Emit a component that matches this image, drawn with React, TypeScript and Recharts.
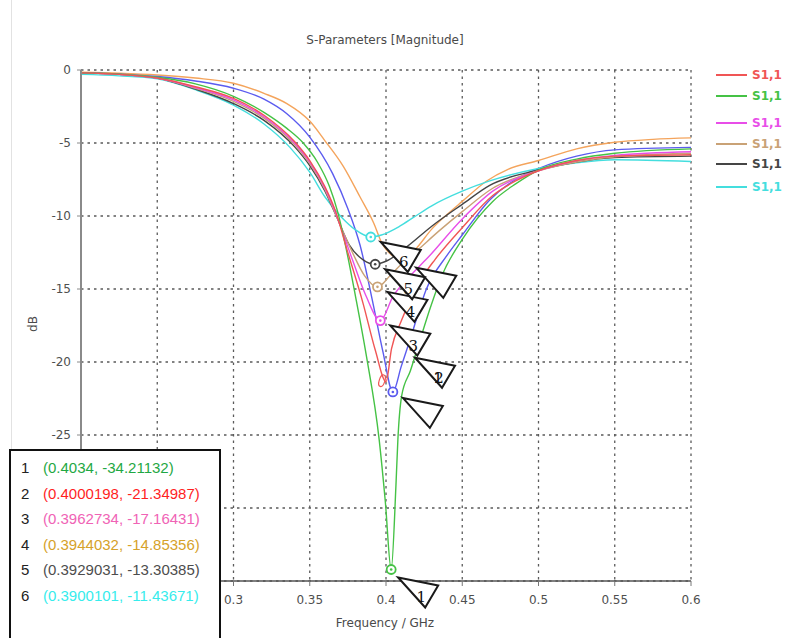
import React from 'react';
import { LineChart, Line, XAxis, YAxis, CartesianGrid, ReferenceDot } from 'recharts';

const xTicks = [0.2, 0.25, 0.3, 0.35, 0.4, 0.45, 0.5, 0.55, 0.6];
const yTicks = [-35, -30, -25, -20, -15, -10, -5, 0];

// traces (frequency in GHz, magnitude in dB)
const orangeF = [0.2, 0.225, 0.25, 0.275, 0.3, 0.32, 0.335, 0.35, 0.36, 0.372, 0.383, 0.392, 0.397, 0.404, 0.412, 0.42, 0.43, 0.44, 0.45, 0.466, 0.48, 0.5, 0.525, 0.55, 0.575, 0.6];
const orangeDb = [-0.15, -0.22, -0.34, -0.55, -0.91, -1.6, -2.3, -3.5, -4.85, -6.6, -8.7, -10.5, -11.8, -12.7, -13.0, -12.2, -10.9, -9.9, -9.0, -7.6, -6.8, -6.2, -5.4, -4.95, -4.75, -4.65];

const blueF = [0.2, 0.225, 0.25, 0.275, 0.3, 0.32, 0.335, 0.35, 0.365, 0.375, 0.383, 0.3915, 0.398, 0.4045, 0.41, 0.416, 0.4265, 0.44, 0.45, 0.468, 0.485, 0.5, 0.525, 0.55, 0.6];
const blueDb = [-0.2, -0.28, -0.45, -0.75, -1.25, -2.0, -3.0, -4.6, -7.1, -9.5, -12.0, -16.0, -19.3, -22.05, -20.3, -18.4, -15.0, -12.7, -11.3, -8.9, -7.5, -6.75, -5.9, -5.47, -5.3];

const greenF = [0.2, 0.225, 0.25, 0.275, 0.3, 0.32, 0.335, 0.3457, 0.355, 0.363, 0.368, 0.373, 0.38, 0.387, 0.3955, 0.3995, 0.4034, 0.4065, 0.4078, 0.4103, 0.416, 0.422, 0.429, 0.437, 0.45, 0.47, 0.485, 0.5, 0.525, 0.55, 0.6];
const greenDb = [-0.2, -0.28, -0.5, -0.95, -1.8, -2.9, -4.0, -5.0, -6.3, -8.0, -9.6, -11.8, -15.5, -19.5, -25.3, -29.5, -34.21132, -28.5, -25.3, -22.3, -20.6, -18.6, -16.3, -14.0, -11.6, -9.0, -7.8, -6.85, -6.1, -5.7, -5.4];

const redF = [0.2, 0.225, 0.25, 0.275, 0.3, 0.32, 0.34, 0.35, 0.36, 0.367, 0.3744, 0.385, 0.393, 0.4000198, 0.4036, 0.41, 0.4245, 0.432, 0.45, 0.47, 0.485, 0.5, 0.525, 0.55, 0.6];
const redDb = [-0.2, -0.3, -0.55, -1.15, -1.95, -3.1, -4.9, -6.2, -8.0, -9.7, -12.3, -16.0, -19.2, -21.34987, -19.1, -17.2, -14.1, -13.0, -10.8, -8.6, -7.6, -6.9, -6.2, -5.9, -5.8];

const magentaF = [0.2, 0.225, 0.25, 0.275, 0.3, 0.32, 0.34, 0.35, 0.36, 0.367, 0.378, 0.387, 0.3962734, 0.4046, 0.415, 0.427, 0.45, 0.47, 0.5, 0.525, 0.55, 0.6];
const magentaDb = [-0.2, -0.3, -0.55, -1.2, -2.05, -3.2, -5.0, -6.3, -8.1, -9.8, -13.0, -15.5, -17.16431, -15.5, -14.2, -12.9, -10.2, -8.3, -6.9, -6.2, -5.85, -5.6];

const tanF = [0.2, 0.225, 0.25, 0.275, 0.3, 0.32, 0.34, 0.35, 0.36, 0.367, 0.378, 0.386, 0.3944032, 0.4026, 0.41, 0.42, 0.435, 0.45, 0.47, 0.5, 0.525, 0.55, 0.6];
const tanDb = [-0.2, -0.3, -0.55, -1.25, -2.15, -3.3, -5.1, -6.4, -8.2, -9.9, -12.5, -14.1, -14.85356, -14.1, -13.3, -12.4, -11.0, -9.7, -8.1, -6.9, -6.3, -5.95, -5.7];

const blackF = [0.2, 0.225, 0.25, 0.275, 0.3, 0.32, 0.34, 0.35, 0.36, 0.367, 0.376, 0.385, 0.3929031, 0.4, 0.4138, 0.43, 0.45, 0.468, 0.5, 0.525, 0.55, 0.6];
const blackDb = [-0.2, -0.3, -0.55, -1.3, -2.3, -3.45, -5.25, -6.55, -8.3, -9.9, -12.0, -13.0, -13.30385, -13.1, -12.1, -10.7, -9.2, -7.9, -6.85, -6.3, -6.0, -5.9];

const cyanF = [0.2, 0.225, 0.25, 0.275, 0.3, 0.32, 0.337, 0.35, 0.36, 0.371, 0.38, 0.3900101, 0.397, 0.409, 0.418, 0.43, 0.45, 0.468, 0.5, 0.525, 0.55, 0.6];
const cyanDb = [-0.3, -0.4, -0.6, -1.35, -2.4, -3.7, -5.3, -7.0, -8.7, -10.1, -10.95, -11.43671, -11.3, -10.7, -10.1, -9.3, -8.3, -7.6, -6.75, -6.35, -6.15, -6.27];

// markers (table in the lower left)
const markerNo = ['1', '2', '3', '4', '5', '6'];
const markerF = [0.4034, 0.4000198, 0.3962734, 0.3944032, 0.3929031, 0.3900101];
const markerDb = [-34.21132, -21.34987, -17.16431, -14.85356, -13.30385, -11.43671];
const markerTextColors = ['#1fa844', '#ff1f1f', '#f063b5', '#d6a22a', '#4d4d4d', '#36ecec'];

// extra unlabeled markers: blue trace minimum, orange trace minimum
const extraF = [0.4045, 0.412];
const extraDb = [-22.05, -13.0];

const legendNames = ['S1,1', 'S1,1', 'S1,1', 'S1,1', 'S1,1', 'S1,1'];

const toPoints = (f: number[], db: number[]) => f.map((x, i) => ({ f: x, db: db[i] }));

const C = {
  orange: '#f4a45c',
  blue: '#5b5bef',
  green: '#45c245',
  red: '#f05555',
  magenta: '#e84ee8',
  tan: '#c9a276',
  black: '#454545',
  cyan: '#44dede',
};

const traces = [
  { key: 'orange', color: C.orange, pts: toPoints(orangeF, orangeDb) },
  { key: 'blue', color: C.blue, pts: toPoints(blueF, blueDb) },
  { key: 'cyan', color: C.cyan, pts: toPoints(cyanF, cyanDb) },
  { key: 'black', color: C.black, pts: toPoints(blackF, blackDb) },
  { key: 'tan', color: C.tan, pts: toPoints(tanF, tanDb) },
  { key: 'magenta', color: C.magenta, pts: toPoints(magentaF, magentaDb) },
  { key: 'green', color: C.green, pts: toPoints(greenF, greenDb) },
  { key: 'red', color: C.red, pts: toPoints(redF, redDb) },
];

const legendColors = [C.red, C.green, C.magenta, C.tan, C.black, C.cyan];
const markerColors = [C.green, C.red, C.magenta, C.tan, C.black, C.cyan];

const tickStyle = { fontFamily: 'DejaVu Sans', fontSize: 12, fill: '#4f4f4f' };

const Ring = (p: any) => (
  <g>
    <circle cx={p.cx} cy={p.cy} r={4.5} fill="#fff" stroke={p.color} strokeWidth={1.8} />
    <circle cx={p.cx} cy={p.cy} r={1.3} fill={p.color} />
  </g>
);

const RedZero = (p: any) => (
  <ellipse cx={p.cx - 4} cy={p.cy - 1} rx={2.8} ry={6} fill="none" stroke={C.red} strokeWidth={1.2}
    transform={`rotate(18 ${p.cx - 4} ${p.cy - 1})`} />
);

// pointer triangle, apex offset from anchor
const Tri = (p: any) => {
  const ax = p.cx + p.dx;
  const ay = p.cy + p.dy;
  const pts = `${ax},${ay} ${ax + 40},${ay + 8} ${ax + 27},${ay + 30}`;
  return (
    <g>
      <polygon points={pts} fill="#fff" stroke="#1a1a1a" strokeWidth={2} strokeLinejoin="miter" />
      {p.labels.map((t: string, i: number) => (
        <text key={i} x={ax + 23 + i * 1} y={ay + 20} textAnchor="middle" dominantBaseline="central"
          fontFamily="DejaVu Serif" fontSize={15} fill="#111">{t}</text>
      ))}
    </g>
  );
};

export default function App() {
  return (
    <div style={{ position: 'absolute', left: 0, top: 0, width: 788, height: 638, background: '#fff', overflow: 'hidden', fontFamily: 'DejaVu Sans' }}>
      <div style={{ position: 'absolute', left: 11, top: 0, width: 1, height: 638, background: '#e2e2e2' }} />
      <LineChart width={788} height={638} margin={{ top: 70, right: 97, bottom: 27, left: 41 }}>
        <CartesianGrid stroke="#5a5a5a" strokeDasharray="2.5 4" strokeWidth={1.3} />
        <XAxis type="number" dataKey="f" domain={[0.2, 0.6]} ticks={xTicks} allowDataOverflow
          height={30} tickSize={5} tickMargin={9} tick={tickStyle}
          tickFormatter={(v: number) => (v < 0.29 ? '' : String(v))}
          stroke="#555" axisLine={{ stroke: '#555', strokeWidth: 1.5 }} tickLine={{ stroke: '#777' }} />
        <XAxis xAxisId="top" orientation="top" type="number" dataKey="f" domain={[0.2, 0.6]} allowDataOverflow
          height={0} tick={false} tickLine={false} axisLine={{ stroke: '#9c9c9c', strokeWidth: 1.5 }} />
        <YAxis type="number" domain={[-35, 0]} ticks={yTicks} allowDataOverflow width={40}
          tickSize={4} tickMargin={6} tick={tickStyle}
          tickFormatter={(v: number) => (v < -27 ? '' : String(v))}
          axisLine={{ stroke: '#8a8a8a', strokeWidth: 2 }} tickLine={{ stroke: '#8a8a8a' }} />
        <YAxis yAxisId="right" orientation="right" type="number" domain={[-35, 0]} allowDataOverflow width={0}
          tick={false} tickLine={false} axisLine={{ stroke: '#9c9c9c', strokeWidth: 1.5 }} />
        {traces.map((t) => (
          <Line key={t.key} data={t.pts} dataKey="db" type="monotone" stroke={t.color} strokeWidth={1.4}
            dot={false} activeDot={false} isAnimationActive={false} />
        ))}
        {markerF.map((f, i) => (
          <ReferenceDot key={`m${i}`} x={f} y={markerDb[i]} r={4} ifOverflow="visible"
            shape={(p: any) => (i === 1 ? <RedZero {...p} /> : <Ring {...p} color={markerColors[i]} />)} />
        ))}
        <ReferenceDot x={extraF[0]} y={extraDb[0]} r={4} ifOverflow="visible"
          shape={(p: any) => <Ring {...p} color={C.blue} />} />
        {/* pointer triangles */}
        <ReferenceDot x={extraF[1]} y={extraDb[1]} r={1} ifOverflow="visible"
          shape={(p: any) => <Tri {...p} dx={12} dy={8} labels={[]} />} />
        <ReferenceDot x={extraF[0]} y={extraDb[0]} r={1} ifOverflow="visible"
          shape={(p: any) => <Tri {...p} dx={10} dy={6} labels={[]} />} />
        {markerF.map((f, i) => (
          <ReferenceDot key={`t${i}`} x={f} y={markerDb[i]} r={1} ifOverflow="visible"
            shape={(p: any) => (
              <Tri {...p} dx={i === 1 ? 29 : i === 0 ? 7 : 10} dy={i === 1 ? -24 : i === 0 ? 8 : 5}
                labels={i === 1 ? ['1', '2'] : [markerNo[i]]} />
            )} />
        ))}
      </LineChart>

      <div style={{ position: 'absolute', left: 285, top: 33, width: 200, textAlign: 'center', fontSize: 12, color: '#4a4a4a' }}>
        S-Parameters [Magnitude]
      </div>
      <div style={{ position: 'absolute', left: 285, top: 616, width: 200, textAlign: 'center', fontSize: 12, color: '#4a4a4a' }}>
        Frequency / GHz
      </div>
      <div style={{ position: 'absolute', left: 18, top: 317, width: 30, textAlign: 'center', fontSize: 12, color: '#4a4a4a', transform: 'rotate(-90deg)' }}>
        dB
      </div>

      {legendNames.map((n, i) => (
        <div key={i} style={{ position: 'absolute', left: 716, top: [67, 88, 115, 136, 156, 179][i], height: 16, display: 'flex', alignItems: 'center' }}>
          <div style={{ width: 31, height: 2, background: legendColors[i] }} />
          <span style={{ marginLeft: 5, fontSize: 12, fontWeight: 'bold', color: legendColors[i] }}>{n}</span>
        </div>
      ))}

      <div style={{ position: 'absolute', left: 9, top: 449, width: 208, height: 220, border: '2px solid #111', background: '#fff', fontFamily: 'Liberation Sans', fontSize: 15 }}>
        {markerNo.map((n, i) => (
          <div key={n} style={{ position: 'absolute', left: 0, top: 8 + i * 25.5, height: 18, width: 208, whiteSpace: 'nowrap' }}>
            <span style={{ position: 'absolute', left: 10, color: '#222' }}>{n}</span>
            <span style={{ position: 'absolute', left: 32, color: markerTextColors[i] }}>
              ({markerF[i]}, {markerDb[i]})
            </span>
          </div>
        ))}
      </div>
    </div>
  );
}
